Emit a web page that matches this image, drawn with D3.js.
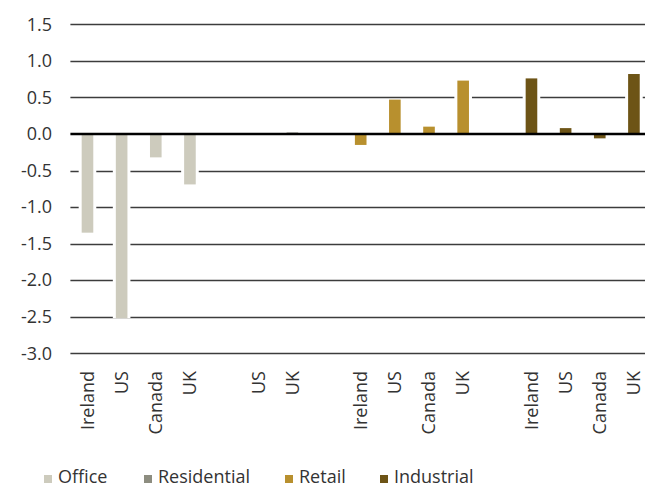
<!DOCTYPE html>
<html>
<head>
<meta charset="utf-8">
<script src="https://cdn.jsdelivr.net/npm/d3@7"></script>
<style>
  html, body { margin: 0; padding: 0; background: #fff; }
  svg { display: block; font-family: "Open Sans", "Noto Sans", sans-serif; }
</style>
</head>
<body>
<svg id="chart" width="645" height="488"></svg>
<script>
// Sectors and their countries / values
const sectors = ["Office", "Residential", "Retail", "Industrial"];
const sectorColors = ["#cdcbbd", "#8d8d80", "#b8902e", "#6d5416"];

const officeCountries = ["Ireland", "US", "Canada", "UK"];
const officeValues = [-1.35, -2.52, -0.32, -0.69];

const residentialCountries = ["US", "UK"];
const residentialValues = [0.0, 0.02];

const retailCountries = ["Ireland", "US", "Canada", "UK"];
const retailValues = [-0.15, 0.47, 0.10, 0.73];

const industrialCountries = ["Ireland", "US", "Canada", "UK"];
const industrialValues = [0.76, 0.08, -0.06, 0.82];

const yTicks = [1.5, 1.0, 0.5, 0.0, -0.5, -1.0, -1.5, -2.0, -2.5, -3.0];

// Build slot list: one slot per bar with an empty slot between sectors
const groups = [
  [officeCountries, officeValues],
  [residentialCountries, residentialValues],
  [retailCountries, retailValues],
  [industrialCountries, industrialValues]
];
const slots = [];
groups.forEach(([countries, values], gi) => {
  if (gi > 0) slots.push({ key: "gap" + gi, label: "", value: null, sector: null });
  countries.forEach((c, i) => {
    slots.push({ key: sectors[gi] + "-" + c, label: c, value: values[i], sector: sectors[gi] });
  });
});

const svg = d3.select("#chart");
const plotLeft = 70.4, plotRight = 651;
const plotTop = 24.3, plotBottom = 353.3;

const x = d3.scaleBand()
  .domain(slots.map(d => d.key))
  .range([plotLeft, plotRight])
  .paddingInner(0)
  .paddingOuter(0);

const y = d3.scaleLinear()
  .domain([-3.0, 1.5])
  .range([plotBottom, plotTop]);

const color = d3.scaleOrdinal().domain(sectors).range(sectorColors);

const barW = x.bandwidth() * 0.34;

// Gridlines
svg.append("g")
  .selectAll("line")
  .data(yTicks.filter(t => t !== 0))
  .join("line")
  .attr("x1", plotLeft).attr("x2", plotRight)
  .attr("y1", d => Math.round(y(d)) + 0.5)
  .attr("y2", d => Math.round(y(d)) + 0.5)
  .attr("stroke", "#3c3c3c")
  .attr("stroke-width", 1.3);

// Y tick labels
svg.append("g")
  .selectAll("text")
  .data(yTicks)
  .join("text")
  .attr("x", 52)
  .attr("y", d => y(d))
  .attr("dy", "0.35em")
  .attr("text-anchor", "end")
  .attr("font-size", 18)
  .attr("fill", "#333")
  .text(d => d.toFixed(1));

const bars = slots.filter(d => d.value !== null);

// White halo behind bars breaks the gridlines
svg.append("g")
  .selectAll("rect")
  .data(bars)
  .join("rect")
  .attr("x", d => x(d.key) + (x.bandwidth() - barW) / 2 - 3)
  .attr("width", barW + 6)
  .attr("y", d => Math.min(y(d.value), y(0)))
  .attr("height", d => Math.abs(y(d.value) - y(0)))
  .attr("fill", "#fff");

// Bars
svg.append("g")
  .selectAll("rect")
  .data(bars)
  .join("rect")
  .attr("x", d => x(d.key) + (x.bandwidth() - barW) / 2)
  .attr("width", barW)
  .attr("y", d => Math.min(y(d.value), y(0)))
  .attr("height", d => Math.abs(y(d.value) - y(0)))
  .attr("fill", d => color(d.sector));

// Zero line
svg.append("line")
  .attr("x1", plotLeft).attr("x2", plotRight)
  .attr("y1", y(0)).attr("y2", y(0))
  .attr("stroke", "#000")
  .attr("stroke-width", 2.6);

// Category labels, rotated
svg.append("g")
  .selectAll("text")
  .data(slots.filter(d => d.label))
  .join("text")
  .attr("transform", d => `translate(${x(d.key) + x.bandwidth() / 2},371) rotate(-90)`)
  .attr("dy", "0.35em")
  .attr("text-anchor", "end")
  .attr("font-size", 18)
  .attr("fill", "#333")
  .text(d => d.label);

// Legend
const legendX = [44, 144, 285, 380];
const legend = svg.append("g")
  .selectAll("g")
  .data(sectors)
  .join("g")
  .attr("transform", (d, i) => `translate(${legendX[i]},475)`);
legend.append("rect")
  .attr("width", 8).attr("height", 8)
  .attr("fill", d => color(d));
legend.append("text")
  .attr("x", 14)
  .attr("y", 8)
  .attr("font-size", 18)
  .attr("fill", "#333")
  .text(d => d);
</script>
</body>
</html>
